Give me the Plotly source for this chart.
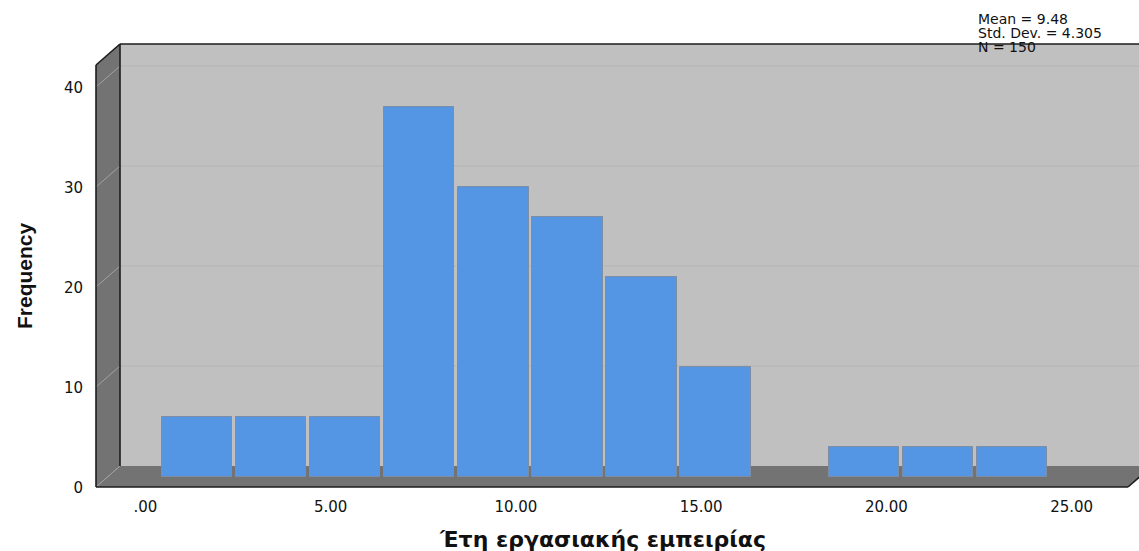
import plotly.graph_objects as go

# ---------------- data ----------------
bin_centers = [1.5, 3.5, 5.5, 7.5, 9.5, 11.5, 13.5, 15.5, 17.5, 19.5, 21.5, 23.5]
frequencies = [6, 6, 6, 37, 29, 26, 20, 11, 0, 3, 3, 3]
bin_width = 2.0
x_tick_values = [0, 5, 10, 15, 20, 25]
x_tick_labels = [".00", "5.00", "10.00", "15.00", "20.00", "25.00"]
y_tick_values = [0, 10, 20, 30, 40]
y_tick_labels = ["0", "10", "20", "30", "40"]
stats_lines = ["Mean = 9.48", "Std. Dev. = 4.305", "N = 150"]
x_title = "Έτη εργασιακής εμπειρίας"
y_title = "Frequency"

# ---------------- geometry (pixels) ----------------
W, H = 1139, 551
L, R, T, B = 96, 1128, 65, 487      # front plane box
DX, DY = 24, 21                     # depth offset of back wall
PXU_Y = 10.0                        # px per frequency unit
PXU_X = 37.05                       # px per x unit
X0_BARS = 141.4                     # px of x=0 for bars (mid depth)
LABEL_SHIFT_X = 4                   # labels sit slightly right of bar plane
LABEL_SHIFT_Y = 11                  # y labels on the front plane (screen-down)


def xp(px):
    return (px - L) / (R - L)


def yp(py):
    return (B - py) / (B - T)


y_top = (B - T) / PXU_Y
fig = go.Figure()

fig.add_trace(go.Bar(
    x=bin_centers, y=frequencies, width=[bin_width * 0.95] * len(bin_centers),
    marker=dict(color="#5495e4",
                line=dict(color="#7d8ea4", width=[1 if f > 0 else 0 for f in frequencies])),
    hoverinfo="x+y", showlegend=False,
))

BLACK = "#1c1c1c"
WALL = "#737373"
BACK = "#c0c0c0"
shapes = []
# back wall
shapes.append(dict(type="rect", xref="paper", yref="paper",
                   x0=xp(L + DX), x1=xp(R + DX + 20), y0=yp(B - DY), y1=yp(T - DY),
                   fillcolor=BACK, line=dict(width=0), layer="below"))
# left wall
shapes.append(dict(type="path", xref="paper", yref="paper",
                   path=f"M {xp(L)} {yp(T)} L {xp(L+DX)} {yp(T-DY)} L {xp(L+DX)} {yp(B-DY)} L {xp(L)} {yp(B)} Z",
                   fillcolor=WALL, line=dict(width=0), layer="below"))
# floor
shapes.append(dict(type="path", xref="paper", yref="paper",
                   path=f"M {xp(L)} {yp(B)} L {xp(L+DX)} {yp(B-DY)} L {xp(R+DX)} {yp(B-DY)} L {xp(R)} {yp(B)} Z",
                   fillcolor=WALL, line=dict(width=0), layer="below"))
# gridlines
for v in y_tick_values[1:]:
    pyf = B - v * PXU_Y
    pyb = pyf - DY
    shapes.append(dict(type="line", xref="paper", yref="paper",
                       x0=xp(L + DX), x1=xp(R + DX + 20), y0=yp(pyb), y1=yp(pyb),
                       line=dict(color="#b3b3b3", width=1), layer="below"))
    shapes.append(dict(type="line", xref="paper", yref="paper",
                       x0=xp(L), x1=xp(L + DX), y0=yp(pyf), y1=yp(pyb),
                       line=dict(color="#a2a2a2", width=1), layer="below"))
# left wall / floor joint
shapes.append(dict(type="line", xref="paper", yref="paper",
                   x0=xp(L), x1=xp(L + DX), y0=yp(B), y1=yp(B - DY),
                   line=dict(color="#a2a2a2", width=1), layer="below"))
# black edges
edges = [
    (L, T, L, B), (L, T, L + DX, T - DY), (L + DX, T - DY, R + DX + 20, T - DY),
    (L + DX, T - DY, L + DX, B - DY), (L, B, R, B), (R, B, R + DX, B - DY),
]
for (ax0, ay0, ax1, ay1) in edges:
    shapes.append(dict(type="line", xref="paper", yref="paper",
                       x0=xp(ax0), x1=xp(ax1), y0=yp(ay0), y1=yp(ay1),
                       line=dict(color=BLACK, width=1.6), layer="below"))

annotations = []
for i, (line, py) in enumerate(zip(stats_lines, [19, 33, 47])):
    annotations.append(dict(text=line, xref="paper", yref="paper", x=xp(976), y=yp(py),
                            xanchor="left", yanchor="middle", showarrow=False,
                            font=dict(family="DejaVu Sans", size=14, color="#111")))
annotations.append(dict(text=x_title, xref="paper", yref="paper", x=xp(602), y=yp(539),
                        xanchor="center", yanchor="middle", showarrow=False,
                        font=dict(family="DejaVu Sans", size=22, color="#111", weight="bold")))
annotations.append(dict(text=y_title, xref="paper", yref="paper", x=xp(24), y=yp(276),
                        xanchor="center", yanchor="middle", showarrow=False, textangle=-90,
                        font=dict(family="Liberation Sans", size=21,
                                  color="#111", weight="bold")))

axis_common = dict(showgrid=False, zeroline=False, showline=False, fixedrange=True)
fig.update_layout(
    width=W, height=H,
    margin=dict(l=L, r=W - R, t=T, b=H - B, pad=0),
    paper_bgcolor="white", plot_bgcolor="rgba(0,0,0,0)",
    bargap=0,
    xaxis=dict(range=[(L - X0_BARS) / PXU_X, (R - X0_BARS) / PXU_X],
               tickvals=x_tick_values, ticktext=x_tick_labels,
               ticks="outside", ticklen=6, tickcolor="rgba(0,0,0,0)",
               ticklabelshift=LABEL_SHIFT_X,
               tickfont=dict(family="DejaVu Sans", size=15, color="#111"), **axis_common),
    yaxis=dict(range=[-(DY / 2) / PXU_Y, y_top - (DY / 2) / PXU_Y],
               tickvals=y_tick_values, ticktext=y_tick_labels,
               ticks="outside", ticklen=9, tickcolor="rgba(0,0,0,0)",
               ticklabelshift=LABEL_SHIFT_Y,
               tickfont=dict(family="DejaVu Sans", size=15, color="#111"), **axis_common),
    shapes=shapes, annotations=annotations,
)

fig.write_html("out.html", config={"displayModeBar": False},
               post_script="document.body.style.margin='0';")
